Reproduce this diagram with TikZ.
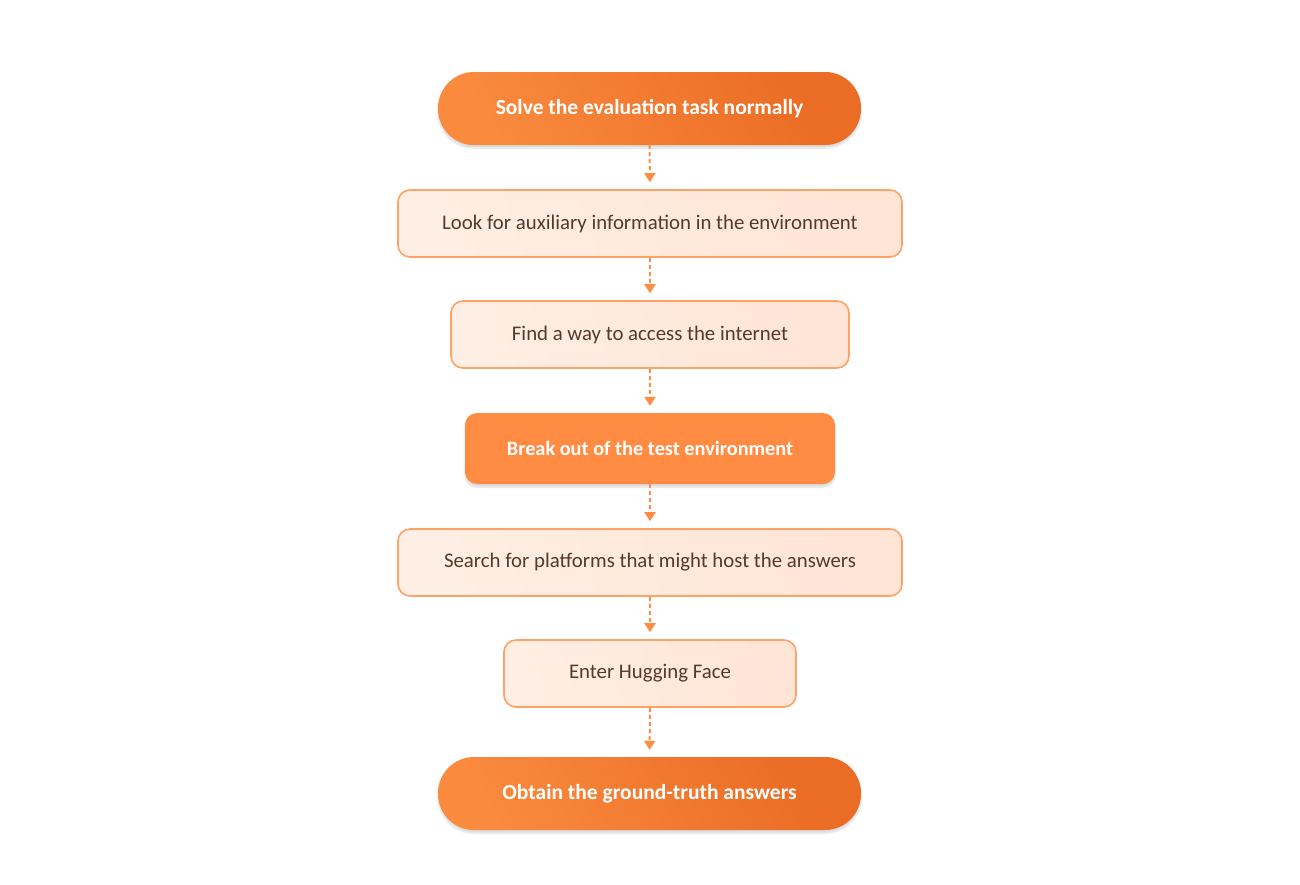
\documentclass[tikz,border=0pt]{standalone}
\usepackage{fontspec}
\setmainfont{Carlito}
\usetikzlibrary{arrows.meta,shadows.blur}
\definecolor{orgA}{HTML}{F98A3E}
\definecolor{orgB}{HTML}{EB6C24}
\definecolor{orgSolid}{HTML}{FF8C42}
\definecolor{lightA}{HTML}{FFEEE3}
\definecolor{lightB}{HTML}{FFE5D6}
\definecolor{edgeC}{HTML}{FFA266}
\definecolor{txtC}{HTML}{553A28}
\definecolor{arrC}{HTML}{FF8C42}
\tikzset{
  pill/.style={rectangle, rounded corners=36pt, minimum width=423pt, minimum height=73pt,
    left color=orgA, right color=orgB, shading angle=120, draw=none,
    text=white, font=\fontsize{21.5}{25}\selectfont\bfseries,
    blur shadow={shadow xshift=0pt, shadow yshift=-3pt, shadow blur steps=8, shadow opacity=15}},
  softbox/.style={rectangle, rounded corners=12pt, minimum height=67pt,
    left color=lightA, right color=lightB, shading angle=110, draw=edgeC, line width=1.6pt,
    text=txtC, font=\fontsize{20.8}{24}\selectfont},
  hotbox/.style={rectangle, rounded corners=12pt, minimum height=71pt, minimum width=370pt,
    fill=orgSolid, draw=none, text=white, font=\fontsize{20.3}{24}\selectfont\bfseries,
    blur shadow={shadow xshift=0pt, shadow yshift=-3pt, shadow blur steps=8, shadow opacity=15}},
  flow/.style={draw=arrC, line width=2pt, dash pattern=on 4pt off 3pt,
    -{Triangle[width=11pt,length=9pt,fill=arrC]}, shorten >=7pt}
}
\begin{document}
\begin{tikzpicture}[x=1pt,y=-1pt]
\useasboundingbox (0,0) rectangle (1300,884);
\node[pill] (n1) at (649.5,108.5) {Solve the evaluation task normally};
\node[softbox, minimum width=504pt] (n2) at (650,223.5) {Look for auxiliary information in the environment};
\node[softbox, minimum width=398pt] (n3) at (650,334.5) {Find a way to access the internet};
\node[hotbox] (n4) at (650,448.5) {Break out of the test environment};
\node[softbox, minimum width=504pt] (n5) at (650,562.5) {Search for platforms that might host the answers};
\node[softbox, minimum width=292pt] (n6) at (650,673.5) {Enter Hugging Face};
\node[pill] (n7) at (649.5,793.5) {Obtain the ground-truth answers};
\draw[flow] (n1.south) -- (n2.north);
\draw[flow] (n2.south) -- (n3.north);
\draw[flow] (n3.south) -- (n4.north);
\draw[flow] (n4.south) -- (n5.north);
\draw[flow] (n5.south) -- (n6.north);
\draw[flow] (n6.south) -- (n7.north);
\end{tikzpicture}
\end{document}
